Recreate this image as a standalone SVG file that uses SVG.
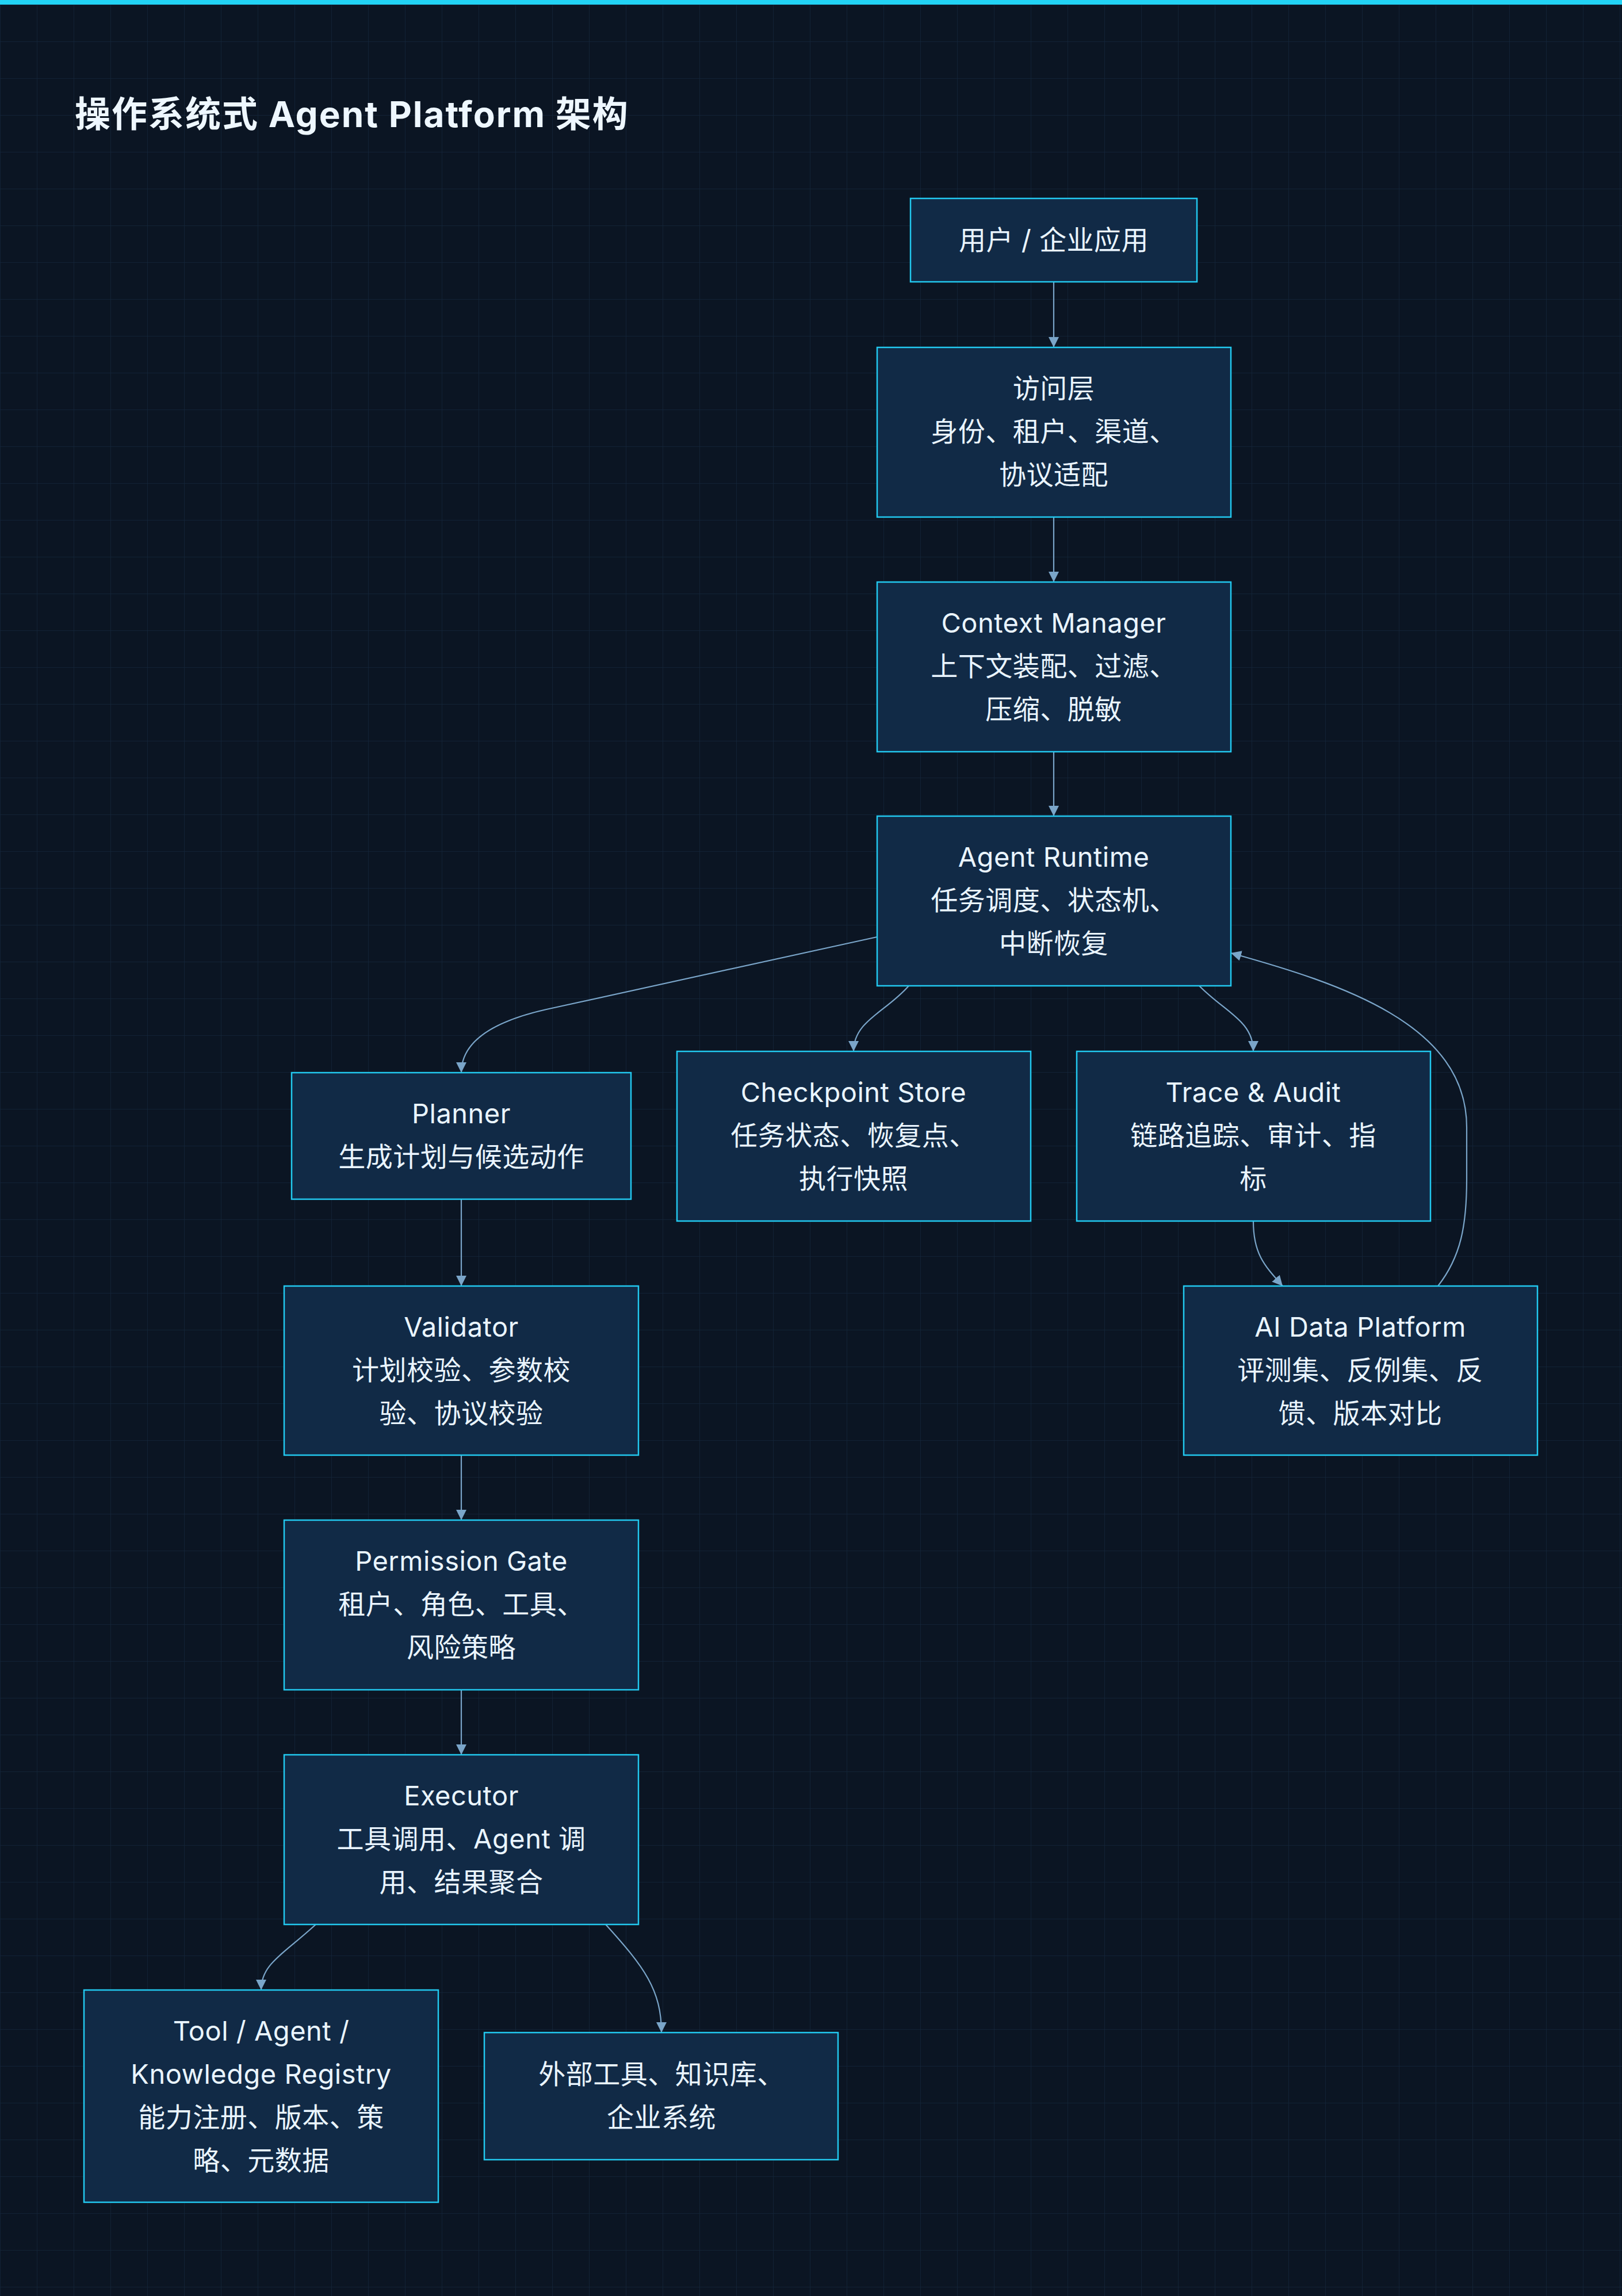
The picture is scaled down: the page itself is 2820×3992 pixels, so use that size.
<svg xmlns="http://www.w3.org/2000/svg" width="2820" height="3992" viewBox="0 0 2820 3992">
<defs>
<pattern id="grid" x="0" y="8" width="64" height="64" patternUnits="userSpaceOnUse">
<path d="M64 0 L0 0 L0 64" fill="none" stroke="#14263a" stroke-width="1.5"/>
</pattern>
<marker id="arr" markerUnits="userSpaceOnUse" markerWidth="18" markerHeight="18" refX="18" refY="9" orient="auto">
<path d="M0 0 L18 9 L0 18 Z" fill="#7aa5c9"/>
</marker>
<style>
.node rect{fill:#112a46;stroke:#22c9f0;stroke-width:2.5}
.node text{fill:#eaf5ff;font-family:Inter,"Noto Sans CJK SC",sans-serif;font-size:47px;letter-spacing:0.5px;text-anchor:middle}
.edges path{fill:none;stroke:#7aa5c9;stroke-width:2.2;marker-end:url(#arr)}
.title{fill:#eef7ff;font-family:Inter,"Noto Sans CJK SC",sans-serif;font-size:62px;letter-spacing:2px;font-weight:700}
</style>
</defs>
<rect x="0" y="0" width="2820" height="3992" fill="#0b1523"/>
<rect x="0" y="0" width="2820" height="3992" fill="url(#grid)"/>
<rect x="0" y="0" width="2820" height="8" fill="#22d3f5"/>
<text class="title" x="130" y="221">操作系统式 Agent Platform 架构</text>

<g class="edges">
<path d="M1832 490 L1832 604"/>
<path d="M1832 899 L1832 1012"/>
<path d="M1832 1307 L1832 1419"/>
<path d="M1525 1629 L950 1755 C870 1773 802 1805 802 1865"/>
<path d="M1580 1714 C1540 1760 1484 1775 1484 1828"/>
<path d="M2085 1714 C2130 1760 2179 1775 2179 1828"/>
<path d="M2179 2123 C2179 2180 2198 2200 2230 2236"/>
<path d="M2500 2236 C2540 2185 2550 2130 2550 2050 L2550 1960 C2550 1780 2330 1710 2140 1657"/>
<path d="M802 2085 L802 2236"/>
<path d="M802 2530 L802 2643"/>
<path d="M802 2938 L802 3051"/>
<path d="M549 3346 C490 3400 454 3415 454 3460"/>
<path d="M1053 3346 C1120 3420 1150 3460 1150 3534"/>
</g>

<g id="n-user" class="node">
<rect x="1583" y="345" width="498" height="145"/>
<text x="1832" y="434">用户 / 企业应用</text>
</g>
<g id="n-access" class="node">
<rect x="1525" y="604" width="615" height="295"/>
<text x="1832" y="692">访问层</text>
<text x="1832" y="767">身份、租户、渠道、</text>
<text x="1832" y="842">协议适配</text>
</g>
<g id="n-context" class="node">
<rect x="1525" y="1012" width="615" height="295"/>
<text x="1832" y="1100">Context Manager</text>
<text x="1832" y="1175">上下文装配、过滤、</text>
<text x="1832" y="1250">压缩、脱敏</text>
</g>
<g id="n-runtime" class="node">
<rect x="1525" y="1419" width="615" height="295"/>
<text x="1832" y="1507">Agent Runtime</text>
<text x="1832" y="1582">任务调度、状态机、</text>
<text x="1832" y="1657">中断恢复</text>
</g>
<g id="n-planner" class="node">
<rect x="507" y="1865" width="590" height="220"/>
<text x="802" y="1953">Planner</text>
<text x="802" y="2028">生成计划与候选动作</text>
</g>
<g id="n-checkpoint" class="node">
<rect x="1177" y="1828" width="615" height="295"/>
<text x="1484" y="1916">Checkpoint Store</text>
<text x="1484" y="1991">任务状态、恢复点、</text>
<text x="1484" y="2066">执行快照</text>
</g>
<g id="n-trace" class="node">
<rect x="1872" y="1828" width="615" height="295"/>
<text x="2179" y="1916">Trace &amp; Audit</text>
<text x="2179" y="1991">链路追踪、审计、指</text>
<text x="2179" y="2066">标</text>
</g>
<g id="n-validator" class="node">
<rect x="494" y="2236" width="616" height="294"/>
<text x="802" y="2324">Validator</text>
<text x="802" y="2399">计划校验、参数校</text>
<text x="802" y="2474">验、协议校验</text>
</g>
<g id="n-aidata" class="node">
<rect x="2058" y="2236" width="615" height="294"/>
<text x="2365" y="2324">AI Data Platform</text>
<text x="2365" y="2399">评测集、反例集、反</text>
<text x="2365" y="2474">馈、版本对比</text>
</g>
<g id="n-permission" class="node">
<rect x="494" y="2643" width="616" height="295"/>
<text x="802" y="2731">Permission Gate</text>
<text x="802" y="2806">租户、角色、工具、</text>
<text x="802" y="2881">风险策略</text>
</g>
<g id="n-executor" class="node">
<rect x="494" y="3051" width="616" height="295"/>
<text x="802" y="3139">Executor</text>
<text x="802" y="3214">工具调用、Agent 调</text>
<text x="802" y="3289">用、结果聚合</text>
</g>
<g id="n-registry" class="node">
<rect x="146" y="3460" width="616" height="369"/>
<text x="454" y="3548">Tool / Agent /</text>
<text x="454" y="3623">Knowledge Registry</text>
<text x="454" y="3698">能力注册、版本、策</text>
<text x="454" y="3773">略、元数据</text>
</g>
<g id="n-external" class="node">
<rect x="842" y="3534" width="615" height="221"/>
<text x="1150" y="3623">外部工具、知识库、</text>
<text x="1150" y="3698">企业系统</text>
</g>
</svg>
